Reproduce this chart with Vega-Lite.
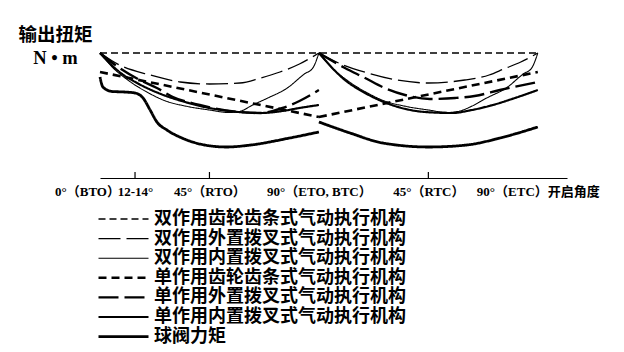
{
  "$schema": "https://vega.github.io/schema/vega-lite/v6.json",
  "width": 467,
  "height": 158,
  "autosize": {"type": "none"},
  "padding": {"left": 100, "top": 20, "right": 57, "bottom": 174},
  "background": "white",
  "config": {
    "view": {"stroke": null},
    "font": "Liberation Serif, Noto Sans CJK SC"
  },
  "datasets": {
    "curves": [
      {"s": "双作用齿轮齿条式气动执行机构", "h": 1, "x": 0, "y": 125},
      {"s": "双作用齿轮齿条式气动执行机构", "h": 1, "x": 180, "y": 125},

      {"s": "双作用外置拨叉式气动执行机构", "h": 1, "x": 0, "y": 125},
      {"s": "双作用外置拨叉式气动执行机构", "h": 1, "x": 8, "y": 113},
      {"s": "双作用外置拨叉式气动执行机构", "h": 1, "x": 20.6, "y": 103},
      {"s": "双作用外置拨叉式气动执行机构", "h": 1, "x": 33, "y": 96},
      {"s": "双作用外置拨叉式气动执行机构", "h": 1, "x": 45, "y": 94},
      {"s": "双作用外置拨叉式气动执行机构", "h": 1, "x": 57.5, "y": 95},
      {"s": "双作用外置拨叉式气动执行机构", "h": 1, "x": 66, "y": 100},
      {"s": "双作用外置拨叉式气动执行机构", "h": 1, "x": 74, "y": 106},
      {"s": "双作用外置拨叉式气动执行机构", "h": 1, "x": 82, "y": 114},
      {"s": "双作用外置拨叉式气动执行机构", "h": 1, "x": 90, "y": 125},
      {"s": "双作用外置拨叉式气动执行机构", "h": 2, "x": 90, "y": 125},
      {"s": "双作用外置拨叉式气动执行机构", "h": 2, "x": 100, "y": 113},
      {"s": "双作用外置拨叉式气动执行机构", "h": 2, "x": 110, "y": 105},
      {"s": "双作用外置拨叉式气动执行机构", "h": 2, "x": 122, "y": 98},
      {"s": "双作用外置拨叉式气动执行机构", "h": 2, "x": 135, "y": 95},
      {"s": "双作用外置拨叉式气动执行机构", "h": 2, "x": 150, "y": 98},
      {"s": "双作用外置拨叉式气动执行机构", "h": 2, "x": 160, "y": 103},
      {"s": "双作用外置拨叉式气动执行机构", "h": 2, "x": 166, "y": 109},
      {"s": "双作用外置拨叉式气动执行机构", "h": 2, "x": 173, "y": 116},
      {"s": "双作用外置拨叉式气动执行机构", "h": 2, "x": 180, "y": 125},

      {"s": "双作用内置拨叉式气动执行机构", "h": 1, "x": 0, "y": 125},
      {"s": "双作用内置拨叉式气动执行机构", "h": 1, "x": 5, "y": 111},
      {"s": "双作用内置拨叉式气动执行机构", "h": 1, "x": 12, "y": 97},
      {"s": "双作用内置拨叉式气动执行机构", "h": 1, "x": 20, "y": 85},
      {"s": "双作用内置拨叉式气动执行机构", "h": 1, "x": 27, "y": 77},
      {"s": "双作用内置拨叉式气动执行机构", "h": 1, "x": 35, "y": 72},
      {"s": "双作用内置拨叉式气动执行机构", "h": 1, "x": 45, "y": 68},
      {"s": "双作用内置拨叉式气动执行机构", "h": 1, "x": 53, "y": 65.5},
      {"s": "双作用内置拨叉式气动执行机构", "h": 1, "x": 58, "y": 67},
      {"s": "双作用内置拨叉式气动执行机构", "h": 1, "x": 62, "y": 72},
      {"s": "双作用内置拨叉式气动执行机构", "h": 1, "x": 69, "y": 80},
      {"s": "双作用内置拨叉式气动执行机构", "h": 1, "x": 77, "y": 90},
      {"s": "双作用内置拨叉式气动执行机构", "h": 1, "x": 84, "y": 104},
      {"s": "双作用内置拨叉式气动执行机构", "h": 1, "x": 87.5, "y": 110},
      {"s": "双作用内置拨叉式气动执行机构", "h": 1, "x": 90, "y": 125},
      {"s": "双作用内置拨叉式气动执行机构", "h": 2, "x": 90, "y": 125},
      {"s": "双作用内置拨叉式气动执行机构", "h": 2, "x": 95, "y": 111},
      {"s": "双作用内置拨叉式气动执行机构", "h": 2, "x": 102, "y": 97},
      {"s": "双作用内置拨叉式气动执行机构", "h": 2, "x": 110, "y": 85},
      {"s": "双作用内置拨叉式气动执行机构", "h": 2, "x": 117, "y": 77},
      {"s": "双作用内置拨叉式气动执行机构", "h": 2, "x": 125, "y": 72},
      {"s": "双作用内置拨叉式气动执行机构", "h": 2, "x": 135, "y": 68},
      {"s": "双作用内置拨叉式气动执行机构", "h": 2, "x": 143, "y": 65.5},
      {"s": "双作用内置拨叉式气动执行机构", "h": 2, "x": 148, "y": 67},
      {"s": "双作用内置拨叉式气动执行机构", "h": 2, "x": 153, "y": 72},
      {"s": "双作用内置拨叉式气动执行机构", "h": 2, "x": 159, "y": 80},
      {"s": "双作用内置拨叉式气动执行机构", "h": 2, "x": 167, "y": 90},
      {"s": "双作用内置拨叉式气动执行机构", "h": 2, "x": 174, "y": 104},
      {"s": "双作用内置拨叉式气动执行机构", "h": 2, "x": 177.5, "y": 110},
      {"s": "双作用内置拨叉式气动执行机构", "h": 2, "x": 180, "y": 125},

      {"s": "单作用齿轮齿条式气动执行机构", "h": 1, "x": 0, "y": 106},
      {"s": "单作用齿轮齿条式气动执行机构", "h": 1, "x": 90, "y": 61},
      {"s": "单作用齿轮齿条式气动执行机构", "h": 2, "x": 90, "y": 61},
      {"s": "单作用齿轮齿条式气动执行机构", "h": 2, "x": 180, "y": 106},

      {"s": "单作用外置拨叉式气动执行机构", "h": 1, "x": 0, "y": 125},
      {"s": "单作用外置拨叉式气动执行机构", "h": 1, "x": 8, "y": 110},
      {"s": "单作用外置拨叉式气动执行机构", "h": 1, "x": 16.4, "y": 98},
      {"s": "单作用外置拨叉式气动执行机构", "h": 1, "x": 23.4, "y": 90},
      {"s": "单作用外置拨叉式气动执行机构", "h": 1, "x": 30, "y": 81},
      {"s": "单作用外置拨叉式气动执行机构", "h": 1, "x": 41, "y": 73},
      {"s": "单作用外置拨叉式气动执行机构", "h": 1, "x": 57.5, "y": 66},
      {"s": "单作用外置拨叉式气动执行机构", "h": 1, "x": 66, "y": 65},
      {"s": "单作用外置拨叉式气动执行机构", "h": 1, "x": 75, "y": 70},
      {"s": "单作用外置拨叉式气动执行机构", "h": 1, "x": 82, "y": 77},
      {"s": "单作用外置拨叉式气动执行机构", "h": 1, "x": 90, "y": 88},
      {"s": "单作用外置拨叉式气动执行机构", "h": 2, "x": 90, "y": 125},
      {"s": "单作用外置拨叉式气动执行机构", "h": 2, "x": 100.7, "y": 110},
      {"s": "单作用外置拨叉式气动执行机构", "h": 2, "x": 109, "y": 100},
      {"s": "单作用外置拨叉式气动执行机构", "h": 2, "x": 117, "y": 90},
      {"s": "单作用外置拨叉式气动执行机构", "h": 2, "x": 125.4, "y": 83},
      {"s": "单作用外置拨叉式气动执行机构", "h": 2, "x": 135.6, "y": 79},
      {"s": "单作用外置拨叉式气动执行机构", "h": 2, "x": 146, "y": 80},
      {"s": "单作用外置拨叉式气动执行机构", "h": 2, "x": 154, "y": 82},
      {"s": "单作用外置拨叉式气动执行机构", "h": 2, "x": 164.4, "y": 88},
      {"s": "单作用外置拨叉式气动执行机构", "h": 2, "x": 180, "y": 96},

      {"s": "单作用内置拨叉式气动执行机构", "h": 1, "x": 0, "y": 125},
      {"s": "单作用内置拨叉式气动执行机构", "h": 1, "x": 8, "y": 106},
      {"s": "单作用内置拨叉式气动执行机构", "h": 1, "x": 16, "y": 94},
      {"s": "单作用内置拨叉式气动执行机构", "h": 1, "x": 25, "y": 84},
      {"s": "单作用内置拨叉式气动执行机构", "h": 1, "x": 35, "y": 76},
      {"s": "单作用内置拨叉式气动执行机构", "h": 1, "x": 45, "y": 70},
      {"s": "单作用内置拨叉式气动执行机构", "h": 1, "x": 57, "y": 66},
      {"s": "单作用内置拨叉式气动执行机构", "h": 1, "x": 66, "y": 65},
      {"s": "单作用内置拨叉式气动执行机构", "h": 1, "x": 75, "y": 67},
      {"s": "单作用内置拨叉式气动执行机构", "h": 1, "x": 82, "y": 70},
      {"s": "单作用内置拨叉式气动执行机构", "h": 1, "x": 90, "y": 73},
      {"s": "单作用内置拨叉式气动执行机构", "h": 2, "x": 90, "y": 125},
      {"s": "单作用内置拨叉式气动执行机构", "h": 2, "x": 100.7, "y": 98},
      {"s": "单作用内置拨叉式气动执行机构", "h": 2, "x": 109, "y": 85},
      {"s": "单作用内置拨叉式气动执行机构", "h": 2, "x": 120, "y": 73},
      {"s": "单作用内置拨叉式气动执行机构", "h": 2, "x": 133.6, "y": 66},
      {"s": "单作用内置拨叉式气动执行机构", "h": 2, "x": 144.7, "y": 65},
      {"s": "单作用内置拨叉式气动执行机构", "h": 2, "x": 152.9, "y": 68},
      {"s": "单作用内置拨叉式气动执行机构", "h": 2, "x": 161.5, "y": 73},
      {"s": "单作用内置拨叉式气动执行机构", "h": 2, "x": 170.6, "y": 80},
      {"s": "单作用内置拨叉式气动执行机构", "h": 2, "x": 180, "y": 88},

      {"s": "球阀力矩", "h": 1, "x": 0, "y": 101},
      {"s": "球阀力矩", "h": 1, "x": 1.2, "y": 91},
      {"s": "球阀力矩", "h": 1, "x": 5, "y": 86.5},
      {"s": "球阀力矩", "h": 1, "x": 10, "y": 86},
      {"s": "球阀力矩", "h": 1, "x": 14.4, "y": 85},
      {"s": "球阀力矩", "h": 1, "x": 17.7, "y": 80},
      {"s": "球阀力矩", "h": 1, "x": 20.6, "y": 68},
      {"s": "球阀力矩", "h": 1, "x": 23.4, "y": 56},
      {"s": "球阀力矩", "h": 1, "x": 27.5, "y": 48},
      {"s": "球阀力矩", "h": 1, "x": 33.7, "y": 40},
      {"s": "球阀力矩", "h": 1, "x": 43, "y": 33},
      {"s": "球阀力矩", "h": 1, "x": 52, "y": 31},
      {"s": "球阀力矩", "h": 1, "x": 62, "y": 33},
      {"s": "球阀力矩", "h": 1, "x": 78, "y": 40},
      {"s": "球阀力矩", "h": 1, "x": 90, "y": 46},
      {"s": "球阀力矩", "h": 2, "x": 90, "y": 56},
      {"s": "球阀力矩", "h": 2, "x": 102.8, "y": 45},
      {"s": "球阀力矩", "h": 2, "x": 116.3, "y": 35},
      {"s": "球阀力矩", "h": 2, "x": 135.2, "y": 31},
      {"s": "球阀力矩", "h": 2, "x": 150.8, "y": 33},
      {"s": "球阀力矩", "h": 2, "x": 164.4, "y": 40},
      {"s": "球阀力矩", "h": 2, "x": 180, "y": 51}
    ]
  },
  "layer": [
    {
      "mark": {"type": "rule", "color": "black", "strokeWidth": 1.2},
      "encoding": {
        "x": {"datum": 90, "type": "quantitative", "scale": {"domain": [0, 192], "nice": false, "zero": false}},
        "y": {"datum": 0, "type": "quantitative", "scale": {"domain": [0, 158], "nice": false, "zero": false}},
        "y2": {"datum": 158}
      }
    },
    {
      "mark": {"type": "rule", "color": "black", "strokeWidth": 1.2},
      "encoding": {
        "x": {"datum": 180, "type": "quantitative"},
        "y": {"datum": 0, "type": "quantitative"},
        "y2": {"datum": 158}
      }
    },
    {
      "mark": {"type": "rule", "color": "black", "strokeWidth": 1.2},
      "encoding": {
        "x": {"datum": 0, "type": "quantitative"},
        "y": {"datum": 0, "type": "quantitative"},
        "y2": {"datum": 126}
      }
    },
    {
      "mark": {"type": "rule", "color": "black", "strokeWidth": 1.3, "strokeDash": [7, 5]},
      "encoding": {
        "x": {"datum": 14.4, "type": "quantitative"},
        "y": {"datum": 0, "type": "quantitative"},
        "y2": {"datum": 158}
      }
    },
    {
      "data": {"values": [{"t": 14.4}, {"t": 45}, {"t": 135}]},
      "mark": {"type": "rule", "color": "black", "strokeWidth": 1.2},
      "encoding": {
        "x": {"field": "t", "type": "quantitative"},
        "y": {"datum": 0, "type": "quantitative"},
        "y2": {"datum": 6}
      }
    },
    {
      "data": {"name": "curves"},
      "mark": {"type": "line", "interpolate": "monotone", "color": "black", "strokeCap": "butt"},
      "encoding": {
        "x": {"field": "x", "type": "quantitative",
          "axis": {
            "values": [0, 14.4, 45, 90, 135, 180],
            "labelExpr": "datum.value == 0 ? '0°（BTO）' : datum.value == 14.4 ? '12-14°' : datum.value == 45 ? '45°（RTO）' : datum.value == 90 ? '90°（ETO, BTC）' : datum.value == 135 ? '45°（RTC）' : '90°（ETC）开启角度'",
            "labelOffset": {"condition": {"test": "datum.value == 0", "value": -13}, "value": 0},
            "title": null, "grid": false, "ticks": false,
            "domainColor": "black", "domainWidth": 1.2,
            "labelPadding": 7,
            "labelFont": "Liberation Serif, Noto Sans CJK SC",
            "labelFontSize": 13, "labelFontWeight": "bold", "labelColor": "black",
            "labelOverlap": false, "labelFlush": false, "labelBound": false
          }
        },
        "y": {"field": "y", "type": "quantitative",
          "axis": {
            "domain": false, "ticks": false, "labels": false, "grid": false,
            "title": ["输出扭矩", "N • m"],
            "titleAngle": 0, "titleAlign": "center", "titleBaseline": "top",
            "titleX": -45, "titleY": 5,
            "titleFont": "Liberation Serif, Noto Sans CJK SC",
            "titleFontSize": 18.5, "titleFontWeight": "bold", "titleColor": "black",
            "titleLineHeight": 23
          }
        },
        "detail": {"field": "h"},
        "strokeDash": {"field": "s", "type": "nominal",
          "scale": {
            "type": "ordinal",
            "domain": ["双作用齿轮齿条式气动执行机构", "双作用外置拨叉式气动执行机构", "双作用内置拨叉式气动执行机构", "单作用齿轮齿条式气动执行机构", "单作用外置拨叉式气动执行机构", "单作用内置拨叉式气动执行机构", "球阀力矩"],
            "range": [[7, 4], [22, 6], [1, 0], [8, 5], [20, 6], [1, 0], [1, 0]]
          },
          "legend": {
            "orient": "none", "legendX": -3, "legendY": 190, "title": null,
            "symbolType": "stroke", "symbolSize": 2500, "symbolStrokeColor": "black",
            "clipHeight": 18, "labelLimit": 400,
            "labelFont": "Noto Sans CJK SC", "labelFontSize": 18, "labelFontWeight": "bold",
            "labelColor": "black", "labelOffset": 4, "rowPadding": 1.6
          }
        },
        "strokeWidth": {"field": "s", "type": "nominal",
          "scale": {
            "type": "ordinal",
            "domain": ["双作用齿轮齿条式气动执行机构", "双作用外置拨叉式气动执行机构", "双作用内置拨叉式气动执行机构", "单作用齿轮齿条式气动执行机构", "单作用外置拨叉式气动执行机构", "单作用内置拨叉式气动执行机构", "球阀力矩"],
            "range": [1.5, 1.3, 1.1, 2.6, 2.4, 2.2, 2.8]
          },
          "legend": {
            "orient": "none", "legendX": -3, "legendY": 190, "title": null,
            "symbolType": "stroke", "symbolSize": 2500, "symbolStrokeColor": "black",
            "clipHeight": 18, "labelLimit": 400,
            "labelFont": "Noto Sans CJK SC", "labelFontSize": 18, "labelFontWeight": "bold",
            "labelColor": "black", "labelOffset": 4, "rowPadding": 1.6
          }
        }
      }
    }
  ]
}
